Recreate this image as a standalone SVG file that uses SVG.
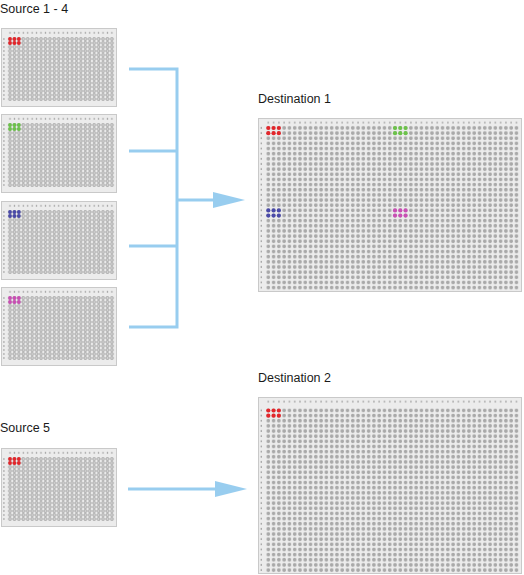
<svg xmlns="http://www.w3.org/2000/svg" xmlns:xlink="http://www.w3.org/1999/xlink" width="524" height="575" viewBox="0 0 524 575">
<style>
.lbl{font-family:"Liberation Sans",Arial,sans-serif;font-size:12.5px;fill:#1a1a1a}
.plate{fill:#ececec;stroke:#c9c9c9;stroke-width:1}
.conn{fill:none;stroke:#98cdef;stroke-width:3}
.red{fill:#e3262b}.green{fill:#6cc24a}.blue{fill:#4a4aa8}.mag{fill:#c94fb4}
</style>
<defs>
<pattern id="w384" patternUnits="userSpaceOnUse" x="6.8" y="9" width="4.43" height="4">
<circle cx="2.215" cy="2" r="1.55" fill="#d2d2d2" stroke="#919191" stroke-width="0.65"/>
</pattern>
<pattern id="h384c" patternUnits="userSpaceOnUse" x="6.8" y="0" width="4.43" height="10">
<rect x="1.6" y="3.8" width="1.2" height="2" fill="#a8a8a8"/>
</pattern>
<pattern id="h384r" patternUnits="userSpaceOnUse" x="0" y="9" width="10" height="4">
<rect x="2.2" y="1.2" width="1.4" height="1.6" fill="#a8a8a8"/>
</pattern>
<pattern id="w1536" patternUnits="userSpaceOnUse" x="7.66" y="7.4" width="5.28" height="5.15">
<circle cx="2.64" cy="2.575" r="1.85" fill="#a9a9a9"/>
</pattern>
<pattern id="w1536b" patternUnits="userSpaceOnUse" x="7.66" y="10.9" width="5.28" height="5.15">
<circle cx="2.64" cy="2.575" r="1.85" fill="#a9a9a9"/>
</pattern>
<pattern id="h1536c" patternUnits="userSpaceOnUse" x="7.66" y="0" width="5.28" height="10">
<rect x="2" y="3.6" width="1.3" height="2" fill="#a8a8a8"/>
</pattern>
<pattern id="h1536r" patternUnits="userSpaceOnUse" x="0" y="7.4" width="10" height="5.15">
<rect x="2.6" y="1.6" width="1.4" height="1.8" fill="#a8a8a8"/>
</pattern>
<pattern id="h1536rb" patternUnits="userSpaceOnUse" x="0" y="10.9" width="10" height="5.15">
<rect x="2.6" y="1.6" width="1.4" height="1.8" fill="#a8a8a8"/>
</pattern>
<g id="p384">
<rect class="plate" x="0.5" y="0.5" width="115" height="78"/>
<rect x="6.8" y="2" width="106.3" height="6" fill="url(#h384c)"/>
<rect x="0" y="9" width="6.5" height="64" fill="url(#h384r)"/>
<rect x="6.8" y="9" width="106.3" height="64" fill="url(#w384)"/>
</g>
<g id="a3x2">
<circle cx="0" cy="0" r="1.9"/><circle cx="4.43" cy="0" r="1.9"/><circle cx="8.86" cy="0" r="1.9"/>
<circle cx="0" cy="4" r="1.9"/><circle cx="4.43" cy="4" r="1.9"/><circle cx="8.86" cy="4" r="1.9"/>
</g>
<g id="b3x2">
<circle cx="0" cy="0" r="2.1"/><circle cx="5.28" cy="0" r="2.1"/><circle cx="10.56" cy="0" r="2.1"/>
<circle cx="0" cy="5.15" r="2.1"/><circle cx="5.28" cy="5.15" r="2.1"/><circle cx="10.56" cy="5.15" r="2.1"/>
</g>
<marker id="ah" markerUnits="userSpaceOnUse" markerWidth="32" markerHeight="16" refX="22" refY="8" orient="auto">
<path d="M0,0 L32,8 L0,16 Z" fill="#98cdef"/>
</marker>
</defs>

<g id="labels">
<text class="lbl" x="0" y="13">Source 1 - 4</text>
<text class="lbl" x="258" y="103">Destination 1</text>
<text class="lbl" x="0" y="432">Source 5</text>
<text class="lbl" x="258" y="382">Destination 2</text>
</g>

<g id="src1" transform="translate(1,28)">
<use xlink:href="#p384"/>
<use xlink:href="#a3x2" class="red" x="9" y="11"/>
</g>
<g id="src2" transform="translate(1,114)">
<use xlink:href="#p384"/>
<use xlink:href="#a3x2" class="green" x="9" y="11"/>
</g>
<g id="src3" transform="translate(1,201)">
<use xlink:href="#p384"/>
<use xlink:href="#a3x2" class="blue" x="9" y="11"/>
</g>
<g id="src4" transform="translate(1,287)">
<use xlink:href="#p384"/>
<use xlink:href="#a3x2" class="mag" x="9" y="11"/>
</g>
<g id="src5" transform="translate(1,448)">
<use xlink:href="#p384"/>
<use xlink:href="#a3x2" class="red" x="9" y="11"/>
</g>

<g id="dest1" transform="translate(258,118)">
<rect class="plate" x="0.5" y="0.5" width="263" height="173"/>
<rect x="7.66" y="1.5" width="253.4" height="5.5" fill="url(#h1536c)"/>
<rect x="0" y="7.4" width="7.2" height="164.8" fill="url(#h1536r)"/>
<rect x="7.66" y="7.4" width="253.4" height="164.8" fill="url(#w1536)"/>
<use xlink:href="#b3x2" class="red" x="10.3" y="9.975"/>
<use xlink:href="#b3x2" class="green" x="137.02" y="9.975"/>
<use xlink:href="#b3x2" class="blue" x="10.3" y="92.375"/>
<use xlink:href="#b3x2" class="mag" x="137.02" y="92.375"/>
</g>

<g id="dest2" transform="translate(258,397)">
<rect class="plate" x="0.5" y="0.5" width="263" height="176"/>
<rect x="7.66" y="3" width="253.4" height="7" fill="url(#h1536c)"/>
<rect x="0" y="10.9" width="7.2" height="164.8" fill="url(#h1536rb)"/>
<rect x="7.66" y="10.9" width="253.4" height="164.8" fill="url(#w1536b)"/>
<use xlink:href="#b3x2" class="red" x="10.3" y="13.475"/>
</g>

<g id="connectors">
<path class="conn" d="M129,69 H177 V327 H129 M129,151 H177 M129,246 H177"/>
<path class="conn" d="M177,200 H235" marker-end="url(#ah)"/>
<path class="conn" d="M128,489 H237" marker-end="url(#ah)"/>
</g>
</svg>
